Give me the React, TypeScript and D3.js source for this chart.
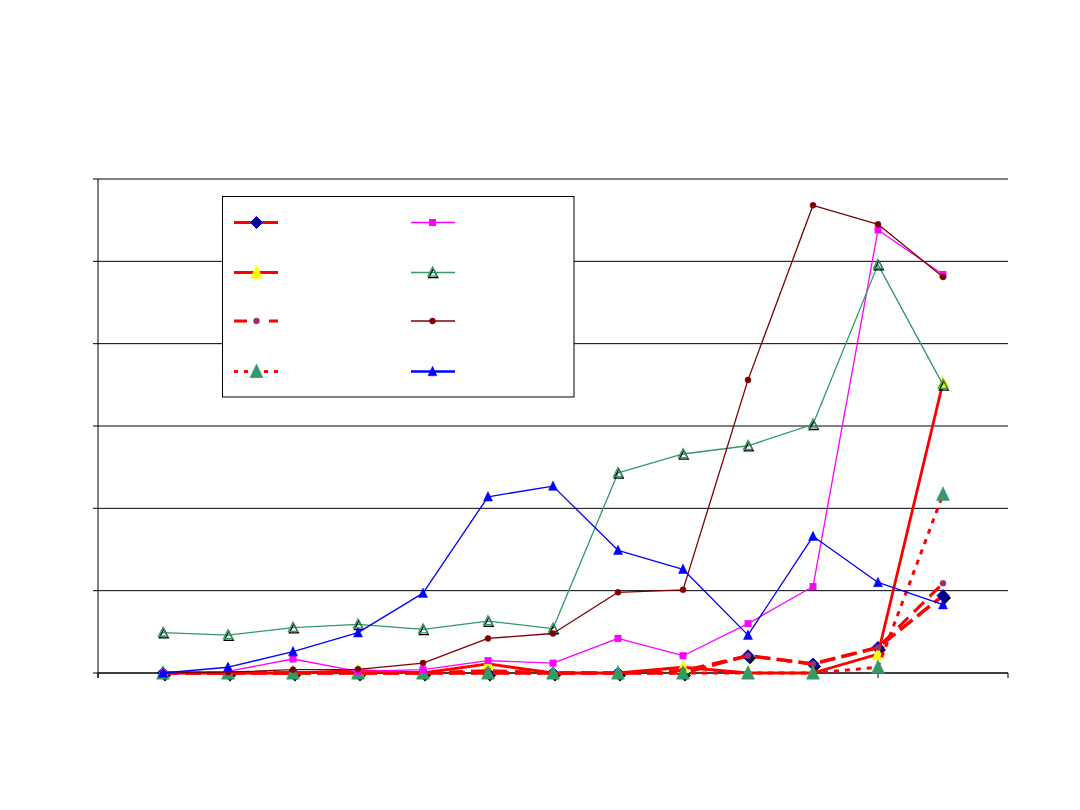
import React from "react";
import * as d3 from "d3";

const categories = [1, 2, 3, 4, 5, 6, 7, 8, 9, 10, 11, 12, 13];
const diamondSeries = [0, 0, 0, 0, 0, 0, 0, 0, 0, 0.21, 0.11, 0.31, 0.94];
const yellowSeries = [0, 0, 0, 0.03, 0, 0.11, 0, 0, 0.07, 0, 0, 0.23, 3.53];
const purpleSeries = [0, 0, 0, 0, 0, 0.03, 0, 0, 0.03, 0.21, 0.11, 0.31, 1.09];
const greenBigSeries = [0, 0, 0, 0, 0, 0, 0, 0, 0, 0, 0, 0.07, 2.17];
const magentaSeries = [0, 0.02, 0.17, 0.02, 0.04, 0.15, 0.12, 0.42, 0.21, 0.6, 1.05, 5.38, 4.84];
const seaGreenSeries = [0.49, 0.46, 0.55, 0.59, 0.53, 0.63, 0.54, 2.43, 2.66, 2.76, 3.02, 4.96, 3.5];
const darkRedSeries = [0, 0.01, 0.04, 0.045, 0.12, 0.42, 0.48, 0.98, 1.01, 3.56, 5.68, 5.45, 4.81];
const blueSeries = [0, 0.07, 0.26, 0.49, 0.97, 2.14, 2.27, 1.49, 1.26, 0.46, 1.66, 1.1, 0.83];
const yTicks = [0, 1, 2, 3, 4, 5, 6];
const xTicks = [0, 12, 14];

type Marker = "diamond" | "triangle" | "circle" | "square" | "openTriangle";
interface S {
  values: number[];
  color: string;
  width: number;
  dash?: string;
  legendDash?: string;
  legendWidth?: number;
  marker: Marker;
  mFill: string;
  mStroke: string;
  size: number;
  shadow?: boolean;
}

const series: S[] = [
  { values: diamondSeries, color: "#FF0000", width: 3.5, dash: "16,6", legendDash: undefined, legendWidth: 3, marker: "diamond", mFill: "#000080", mStroke: "#0000FF", size: 6, shadow: true },
  { values: yellowSeries, color: "#FF0000", width: 2.8, marker: "triangle", mFill: "#FFFF00", mStroke: "#FFFF00", size: 6 },
  { values: purpleSeries, color: "#FF0000", width: 3, dash: "14,8", legendDash: "13,22", marker: "circle", mFill: "#993366", mStroke: "#993366", size: 3 },
  { values: greenBigSeries, color: "#FF0000", width: 3, dash: "5,6", legendDash: "4,6", marker: "triangle", mFill: "#339966", mStroke: "#339966", size: 6.5 },
  { values: magentaSeries, color: "#FF00FF", width: 1.3, marker: "square", mFill: "#FF00FF", mStroke: "#FF00FF", size: 3.5 },
  { values: seaGreenSeries, color: "#339966", width: 1.3, marker: "openTriangle", mFill: "none", mStroke: "#339966", size: 5 },
  { values: darkRedSeries, color: "#800000", width: 1.3, marker: "circle", mFill: "#800000", mStroke: "#800000", size: 3 },
  { values: blueSeries, color: "#0000FF", width: 1.3, legendWidth: 2.5, marker: "triangle", mFill: "#0000FF", mStroke: "#0000FF", size: 4.5 },
];

function markerShape(m: Marker, x: number, y: number, s: number, fill: string, stroke: string, key: string, shadow?: boolean) {
  const items: React.ReactNode[] = [];
  if (m === "diamond") {
    const p = (dx: number, dy: number) => `M${x + dx},${y + dy - s}L${x + dx + s},${y + dy}L${x + dx},${y + dy + s}L${x + dx - s},${y + dy}Z`;
    if (shadow) items.push(<path key={key + "s"} d={p(2, 2.5)} fill="#000" />);
    items.push(<path key={key} d={p(0, 0)} fill={fill} stroke={stroke} strokeWidth={1} />);
  } else if (m === "triangle") {
    const h = s * 2.1;
    items.push(<path key={key} d={`M${x},${y - h * 0.55}L${x + s},${y + h * 0.45}L${x - s},${y + h * 0.45}Z`} fill={fill} stroke={stroke} strokeWidth={0.5} />);
  } else if (m === "openTriangle") {
    const h = s * 1.8;
    const t = (dx: number, dy: number) => `M${x + dx},${y + dy - h * 0.6}L${x + dx + s * 0.9},${y + dy + h * 0.4}L${x + dx - s * 0.9},${y + dy + h * 0.4}Z`;
    items.push(<path key={key + "s"} d={t(0.8, 1.6)} fill="none" stroke="#000" strokeWidth={1.3} />);
    items.push(<path key={key} d={t(0, 0)} fill="none" stroke={stroke} strokeWidth={1.3} />);
  } else if (m === "circle") {
    items.push(<circle key={key} cx={x} cy={y} r={s} fill={fill} stroke={stroke} strokeWidth={0.5} />);
  } else {
    items.push(<rect key={key} x={x - s} y={y - s} width={2 * s} height={2 * s} fill={fill} />);
  }
  return items;
}

export default function App() {
  const left = 98, right = 1008, top = 179, bottom = 673;
  const x = d3.scaleLinear().domain([0, 14]).range([left, right]);
  const y = d3.scaleLinear().domain([0, 6]).range([bottom, top]);
  const line = d3.line<number>().x((_, i) => x(categories[i])).y((v) => y(v));

  const legendCol = [234, 411];
  const legendRows = [222.5, 272.5, 321, 371.5];

  return (
    <svg width={1080} height={810} style={{ position: "absolute", left: 0, top: 0, background: "#fff" }}>
      <rect x={0} y={0} width={1080} height={810} fill="#fff" />
      {yTicks.map((t) => (
        <g key={"g" + t}>
          <line x1={left} x2={right} y1={y(t)} y2={y(t)} stroke="#000" strokeWidth={1} />
          <line x1={left - 5} x2={left} y1={y(t)} y2={y(t)} stroke="#000" strokeWidth={1} />
        </g>
      ))}
      <line x1={left} x2={left} y1={top} y2={bottom + 5} stroke="#000" strokeWidth={1} />
      <line x1={left} x2={right} y1={bottom} y2={bottom} stroke="#000" strokeWidth={1.2} />
      {xTicks.map((t) => (
        <line key={"xt" + t} x1={x(t)} x2={x(t)} y1={bottom} y2={bottom + 5} stroke="#000" strokeWidth={1} />
      ))}
      {series.map((s, si) => (
        <g key={"s" + si}>
          <path d={line(s.values) || ""} fill="none" stroke={s.color} strokeWidth={s.width} strokeDasharray={s.dash} strokeLinejoin="round" />
          {s.values.map((v, i) => markerShape(s.marker, x(categories[i]), y(v), s.size, s.mFill, s.mStroke, `m${si}-${i}`, s.shadow))}
        </g>
      ))}
      <rect x={222.5} y={196.5} width={351.5} height={200.5} fill="#fff" stroke="#000" strokeWidth={1} />
      {series.map((s, si) => {
        const col = si < 4 ? 0 : 1;
        const row = si % 4;
        const lx = legendCol[col];
        const ly = legendRows[row];
        const w = 44;
        const mx = col === 0 ? 256.5 : 432.5;
        return (
          <g key={"l" + si}>
            <line x1={lx} x2={lx + w} y1={ly} y2={ly} stroke={s.color} strokeWidth={s.legendWidth ?? s.width} strokeDasharray={s.legendDash} />
            {markerShape(s.marker, mx, ly, s.size, s.mFill, s.mStroke, `lm${si}`, false)}
          </g>
        );
      })}
    </svg>
  );
}
